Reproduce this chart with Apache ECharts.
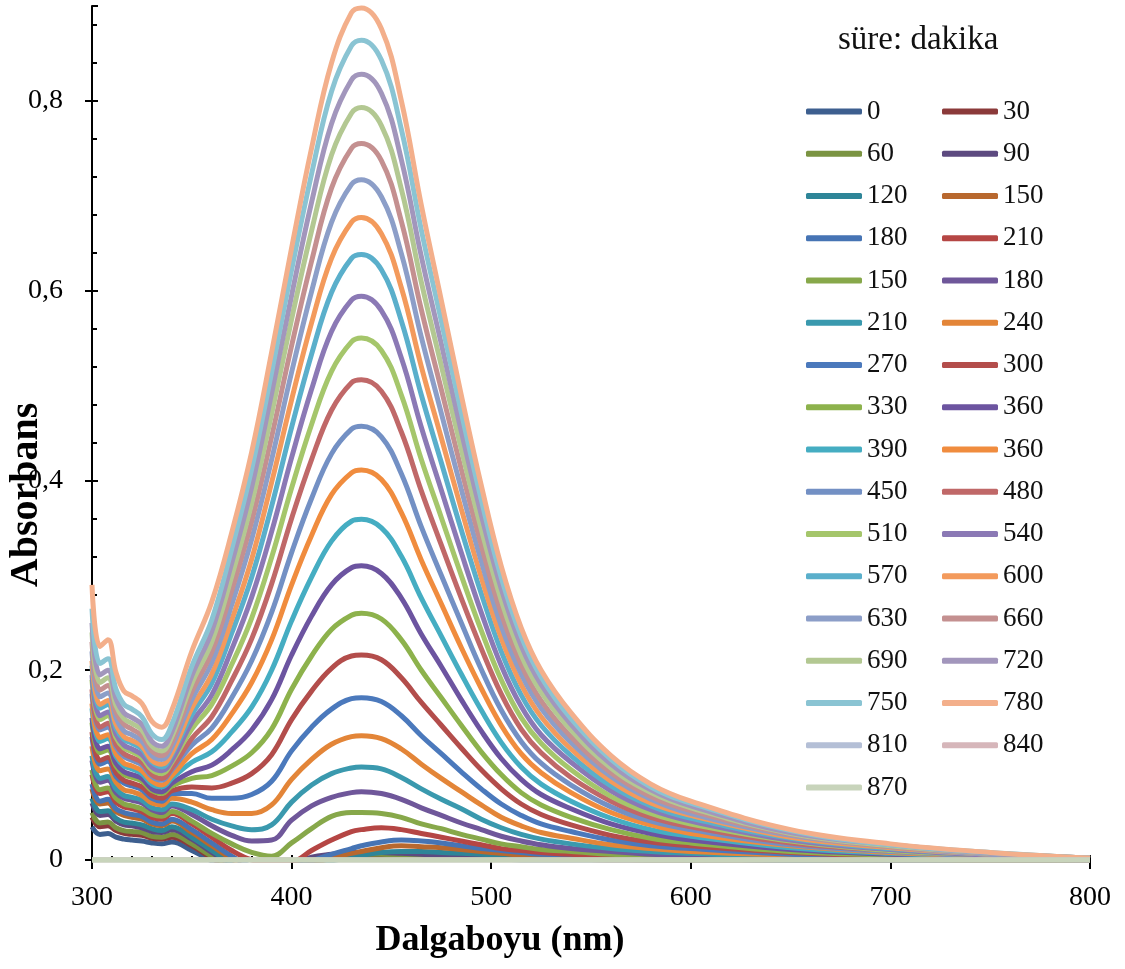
<!DOCTYPE html>
<html>
<head>
<meta charset="utf-8">
<script src="https://cdn.jsdelivr.net/npm/echarts/dist/echarts.min.js"></script>
<style>
  html, body { margin: 0; padding: 0; background: #fff; }
  #main { width: 1125px; height: 969px; }
</style>
</head>
<body>
<div id="main"></div>
<script>
// wavelength grid (nm) the absorbance values were read at
const wavelengths = [300, 304, 308, 312, 316, 320, 325, 330, 335, 340, 350, 360, 370, 380, 390, 400,
  410, 420, 430, 435, 445, 455, 465, 475, 485, 495, 505, 515, 525, 540, 560, 580, 600, 650, 700, 750, 800]

// legend labels, in the order they appear (süre: dakika)
const timeLabels = ['0', '30', '60', '90', '120', '150', '180', '210', '150', '180', '210', '240',
  '270', '300', '330', '360', '390', '360', '450', '480', '510', '540', '570', '600', '630', '660',
  '690', '720', '750', '780', '810', '840', '870']

const curve00 = [0.035, 0.027, 0.028, 0.024, 0.022, 0.021, 0.020, 0.018, 0.017, 0.019, 0.010, -0.001, -0.013, -0.021, -0.024, -0.009, -0.002, 0.001, 0.002, 0.002, 0.002, 0.002, 0.002, 0.001, 0.001, 0.001, 0.001, 0, 0, 0, 0, 0, 0, 0, 0, 0, 0]
const curve01 = [0.045, 0.035, 0.036, 0.031, 0.028, 0.027, 0.026, 0.023, 0.022, 0.024, 0.015, 0.002, -0.010, -0.019, -0.022, -0.008, -0.001, 0.002, 0.004, 0.004, 0.004, 0.004, 0.003, 0.003, 0.002, 0.002, 0.002, 0.001, 0.001, 0.001, 0, 0, 0, 0, 0, 0, 0]
const curve02 = [0.050, 0.039, 0.040, 0.034, 0.031, 0.030, 0.029, 0.025, 0.024, 0.027, 0.017, 0.004, -0.008, -0.018, -0.021, -0.006, 0.001, 0.004, 0.006, 0.006, 0.006, 0.005, 0.005, 0.004, 0.003, 0.003, 0.002, 0.002, 0.001, 0.001, 0.001, 0, 0, 0, 0, 0, 0]
const curve03 = [0.060, 0.047, 0.048, 0.041, 0.037, 0.036, 0.034, 0.030, 0.029, 0.032, 0.022, 0.008, -0.005, -0.016, -0.020, -0.005, 0.003, 0.006, 0.008, 0.008, 0.008, 0.007, 0.006, 0.005, 0.005, 0.004, 0.003, 0.002, 0.002, 0.001, 0.001, 0.001, 0.001, 0, 0, 0, 0]
const curve04 = [0.065, 0.051, 0.052, 0.044, 0.040, 0.039, 0.037, 0.033, 0.031, 0.035, 0.024, 0.010, -0.004, -0.015, -0.018, -0.012, -0.006, -0.001, 0.003, 0.005, 0.008, 0.009, 0.009, 0.008, 0.007, 0.006, 0.005, 0.004, 0.003, 0.002, 0.002, 0.001, 0.001, 0, 0, 0, 0]
const curve05 = [0.075, 0.059, 0.060, 0.051, 0.047, 0.045, 0.043, 0.038, 0.036, 0.041, 0.029, 0.015, 0.001, -0.011, -0.015, -0.011, -0.004, 0.002, 0.007, 0.009, 0.013, 0.015, 0.014, 0.013, 0.011, 0.009, 0.007, 0.005, 0.004, 0.003, 0.002, 0.002, 0.001, 0.001, 0, 0, 0]
const curve06 = [0.080, 0.062, 0.064, 0.054, 0.050, 0.048, 0.046, 0.040, 0.038, 0.043, 0.032, 0.018, 0.004, -0.007, -0.011, -0.008, -0.001, 0.006, 0.012, 0.015, 0.019, 0.021, 0.020, 0.018, 0.015, 0.012, 0.010, 0.008, 0.006, 0.005, 0.003, 0.002, 0.002, 0.001, 0, 0, 0]
const curve07 = [0.090, 0.070, 0.072, 0.061, 0.056, 0.054, 0.051, 0.045, 0.043, 0.049, 0.038, 0.024, 0.010, 0.000, -0.003, -0.002, 0.010, 0.021, 0.030, 0.032, 0.034, 0.032, 0.028, 0.024, 0.020, 0.016, 0.012, 0.010, 0.008, 0.006, 0.004, 0.003, 0.002, 0.001, 0.001, 0, 0]
const curve08 = [0.095, 0.074, 0.076, 0.065, 0.059, 0.057, 0.054, 0.048, 0.046, 0.051, 0.041, 0.028, 0.017, 0.008, 0.004, 0.018, 0.033, 0.046, 0.050, 0.050, 0.049, 0.045, 0.038, 0.033, 0.027, 0.022, 0.017, 0.014, 0.011, 0.009, 0.006, 0.004, 0.003, 0.002, 0.001, 0, 0]
const curve09 = [0.105, 0.082, 0.084, 0.071, 0.065, 0.063, 0.060, 0.053, 0.050, 0.057, 0.048, 0.036, 0.026, 0.020, 0.021, 0.042, 0.057, 0.066, 0.071, 0.072, 0.070, 0.064, 0.055, 0.047, 0.039, 0.032, 0.025, 0.020, 0.016, 0.012, 0.009, 0.006, 0.005, 0.003, 0.001, 0.001, 0]
const curve10 = [0.110, 0.086, 0.088, 0.075, 0.068, 0.066, 0.063, 0.055, 0.053, 0.059, 0.053, 0.043, 0.036, 0.032, 0.037, 0.061, 0.079, 0.091, 0.097, 0.098, 0.096, 0.087, 0.075, 0.064, 0.054, 0.043, 0.034, 0.027, 0.022, 0.017, 0.012, 0.009, 0.007, 0.003, 0.002, 0.001, 0]
const curve11 = [0.120, 0.094, 0.096, 0.082, 0.074, 0.072, 0.068, 0.060, 0.058, 0.065, 0.061, 0.053, 0.049, 0.049, 0.058, 0.085, 0.106, 0.122, 0.130, 0.131, 0.128, 0.117, 0.101, 0.086, 0.072, 0.058, 0.045, 0.036, 0.029, 0.023, 0.016, 0.012, 0.009, 0.005, 0.002, 0.001, 0]
const curve12 = [0.130, 0.101, 0.104, 0.088, 0.081, 0.078, 0.074, 0.065, 0.062, 0.070, 0.070, 0.065, 0.065, 0.069, 0.083, 0.115, 0.140, 0.159, 0.170, 0.171, 0.167, 0.152, 0.131, 0.112, 0.093, 0.075, 0.059, 0.047, 0.038, 0.030, 0.021, 0.015, 0.012, 0.006, 0.003, 0.002, 0]
const curve13 = [0.135, 0.105, 0.108, 0.092, 0.084, 0.081, 0.077, 0.068, 0.065, 0.073, 0.077, 0.076, 0.081, 0.091, 0.111, 0.148, 0.178, 0.202, 0.215, 0.216, 0.211, 0.192, 0.166, 0.142, 0.118, 0.095, 0.075, 0.059, 0.048, 0.037, 0.026, 0.019, 0.015, 0.008, 0.004, 0.002, 0]
const curve14 = [0.145, 0.113, 0.116, 0.099, 0.090, 0.087, 0.083, 0.073, 0.070, 0.078, 0.086, 0.089, 0.099, 0.113, 0.138, 0.180, 0.215, 0.243, 0.258, 0.260, 0.254, 0.232, 0.200, 0.171, 0.142, 0.114, 0.090, 0.071, 0.058, 0.045, 0.032, 0.023, 0.018, 0.009, 0.005, 0.002, 0.001]
const curve15 = [0.150, 0.117, 0.120, 0.102, 0.093, 0.090, 0.086, 0.075, 0.072, 0.081, 0.093, 0.100, 0.116, 0.137, 0.169, 0.216, 0.257, 0.290, 0.308, 0.310, 0.302, 0.276, 0.238, 0.204, 0.169, 0.136, 0.107, 0.085, 0.069, 0.054, 0.038, 0.028, 0.021, 0.011, 0.006, 0.003, 0.001]
const curve16 = [0.160, 0.125, 0.128, 0.109, 0.099, 0.096, 0.091, 0.080, 0.077, 0.086, 0.103, 0.114, 0.135, 0.161, 0.200, 0.252, 0.298, 0.336, 0.357, 0.359, 0.350, 0.320, 0.276, 0.236, 0.196, 0.158, 0.124, 0.098, 0.080, 0.062, 0.044, 0.032, 0.025, 0.013, 0.007, 0.003, 0.001]
const curve17 = [0.165, 0.129, 0.132, 0.112, 0.102, 0.099, 0.094, 0.083, 0.079, 0.089, 0.112, 0.127, 0.154, 0.187, 0.232, 0.290, 0.342, 0.385, 0.408, 0.411, 0.401, 0.366, 0.316, 0.270, 0.224, 0.181, 0.142, 0.112, 0.092, 0.071, 0.050, 0.037, 0.028, 0.015, 0.008, 0.004, 0.001]
const curve18 = [0.175, 0.137, 0.140, 0.119, 0.109, 0.105, 0.100, 0.088, 0.084, 0.095, 0.121, 0.139, 0.171, 0.210, 0.261, 0.324, 0.381, 0.428, 0.454, 0.457, 0.446, 0.407, 0.351, 0.300, 0.250, 0.201, 0.158, 0.125, 0.102, 0.079, 0.056, 0.041, 0.032, 0.016, 0.009, 0.004, 0.001]
const curve19 = [0.180, 0.140, 0.144, 0.122, 0.112, 0.108, 0.103, 0.090, 0.086, 0.097, 0.128, 0.151, 0.189, 0.233, 0.291, 0.360, 0.422, 0.474, 0.503, 0.506, 0.494, 0.451, 0.389, 0.332, 0.276, 0.223, 0.175, 0.138, 0.113, 0.087, 0.062, 0.045, 0.035, 0.018, 0.010, 0.005, 0.001]
const curve20 = [0.190, 0.148, 0.152, 0.129, 0.118, 0.114, 0.108, 0.095, 0.091, 0.103, 0.138, 0.164, 0.206, 0.255, 0.319, 0.392, 0.459, 0.515, 0.546, 0.550, 0.537, 0.490, 0.422, 0.361, 0.300, 0.242, 0.190, 0.150, 0.123, 0.095, 0.067, 0.049, 0.038, 0.020, 0.010, 0.005, 0.001]
const curve21 = [0.195, 0.152, 0.156, 0.133, 0.121, 0.117, 0.111, 0.098, 0.094, 0.105, 0.145, 0.174, 0.222, 0.277, 0.346, 0.424, 0.496, 0.557, 0.590, 0.594, 0.579, 0.529, 0.456, 0.390, 0.324, 0.261, 0.205, 0.162, 0.132, 0.103, 0.073, 0.053, 0.041, 0.021, 0.011, 0.005, 0.001]
const curve22 = [0.205, 0.160, 0.164, 0.139, 0.127, 0.123, 0.117, 0.103, 0.098, 0.111, 0.153, 0.186, 0.239, 0.298, 0.373, 0.456, 0.533, 0.598, 0.634, 0.638, 0.622, 0.568, 0.490, 0.419, 0.348, 0.281, 0.220, 0.174, 0.142, 0.110, 0.078, 0.057, 0.044, 0.023, 0.012, 0.006, 0.001]
const curve23 = [0.210, 0.164, 0.168, 0.143, 0.130, 0.126, 0.120, 0.105, 0.101, 0.113, 0.160, 0.196, 0.253, 0.317, 0.398, 0.485, 0.566, 0.634, 0.672, 0.677, 0.660, 0.603, 0.520, 0.445, 0.370, 0.298, 0.234, 0.185, 0.151, 0.117, 0.083, 0.060, 0.047, 0.024, 0.013, 0.006, 0.001]
const curve24 = [0.220, 0.172, 0.176, 0.150, 0.136, 0.132, 0.125, 0.110, 0.106, 0.119, 0.169, 0.208, 0.269, 0.338, 0.422, 0.514, 0.599, 0.672, 0.712, 0.717, 0.699, 0.639, 0.551, 0.471, 0.391, 0.315, 0.247, 0.196, 0.160, 0.124, 0.088, 0.064, 0.049, 0.026, 0.014, 0.006, 0.002]
const curve25 = [0.230, 0.179, 0.184, 0.156, 0.143, 0.138, 0.131, 0.115, 0.110, 0.124, 0.177, 0.219, 0.284, 0.357, 0.446, 0.542, 0.631, 0.708, 0.750, 0.755, 0.737, 0.673, 0.580, 0.496, 0.412, 0.332, 0.260, 0.206, 0.168, 0.130, 0.092, 0.067, 0.052, 0.027, 0.014, 0.007, 0.002]
const curve26 = [0.240, 0.187, 0.192, 0.163, 0.149, 0.144, 0.137, 0.120, 0.115, 0.130, 0.186, 0.230, 0.299, 0.376, 0.470, 0.570, 0.663, 0.743, 0.787, 0.793, 0.774, 0.707, 0.609, 0.521, 0.433, 0.349, 0.274, 0.216, 0.177, 0.137, 0.097, 0.071, 0.055, 0.028, 0.015, 0.007, 0.002]
const curve27 = [0.250, 0.195, 0.200, 0.170, 0.155, 0.150, 0.143, 0.125, 0.120, 0.135, 0.194, 0.241, 0.313, 0.393, 0.492, 0.595, 0.693, 0.776, 0.822, 0.828, 0.808, 0.738, 0.636, 0.544, 0.452, 0.364, 0.286, 0.226, 0.185, 0.143, 0.101, 0.074, 0.057, 0.029, 0.016, 0.007, 0.002]
const curve28 = [0.265, 0.207, 0.212, 0.180, 0.164, 0.159, 0.151, 0.133, 0.127, 0.143, 0.204, 0.253, 0.328, 0.412, 0.514, 0.622, 0.723, 0.810, 0.858, 0.864, 0.843, 0.770, 0.664, 0.568, 0.472, 0.380, 0.298, 0.236, 0.193, 0.149, 0.106, 0.077, 0.060, 0.031, 0.016, 0.008, 0.002]
const curve29 = [0.290, 0.225, 0.232, 0.198, 0.178, 0.173, 0.165, 0.146, 0.140, 0.158, 0.220, 0.272, 0.345, 0.430, 0.535, 0.645, 0.750, 0.840, 0.893, 0.898, 0.876, 0.800, 0.690, 0.590, 0.490, 0.395, 0.310, 0.245, 0.200, 0.155, 0.110, 0.080, 0.062, 0.032, 0.017, 0.008, 0.002]
const curve30 = [0, 0, 0, 0, 0, 0, 0, 0, 0, 0, 0, 0, 0, 0, 0, 0, 0, 0, 0, 0, 0, 0, 0, 0, 0, 0, 0, 0, 0, 0, 0, 0, 0, 0, 0, 0, 0]
const curve31 = [0, 0, 0, 0, 0, 0, 0, 0, 0, 0, 0, 0, 0, 0, 0, 0, 0, 0, 0, 0, 0, 0, 0, 0, 0, 0, 0, 0, 0, 0, 0, 0, 0, 0, 0, 0, 0]
const curve32 = [0, 0, 0, 0, 0, 0, 0, 0, 0, 0, 0, 0, 0, 0, 0, 0, 0, 0, 0, 0, 0, 0, 0, 0, 0, 0, 0, 0, 0, 0, 0, 0, 0, 0, 0, 0, 0]

const curves = [curve00, curve01, curve02, curve03, curve04, curve05, curve06, curve07, curve08,
  curve09, curve10, curve11, curve12, curve13, curve14, curve15, curve16, curve17, curve18, curve19,
  curve20, curve21, curve22, curve23, curve24, curve25, curve26, curve27, curve28, curve29, curve30,
  curve31, curve32]

const colors = ['#3d5f8f', '#8b3a3a', '#7b9442', '#5d4a80', '#2e8598', '#b8682e', '#4674b4', '#b54644',
  '#87a84a', '#6f579a', '#3a99ae', '#e38538', '#4b79bc', '#b34d4b', '#8db24c', '#6c54a0', '#45adc2',
  '#f08c3e', '#7390c4', '#c06868', '#a5c66b', '#8b79b5', '#5aafcb', '#f39a5c', '#8c9ec8', '#c49090',
  '#b3c892', '#a296bc', '#8ac4d3', '#f3af8b', '#b4bfd6', '#d6b6ba', '#c8d4bb']

const font = "'Liberation Serif', 'Times New Roman', serif"

// names must be unique (labels repeat), the legend shows only the part before '#'
const seriesNames = timeLabels.map((t, i) => t + '#' + i)
const legendText = name => name.split('#')[0]

const chart = echarts.init(document.getElementById('main'))

const legendBase = {
  orient: 'vertical',
  top: 98,
  padding: 0,
  itemWidth: 56,
  itemHeight: 6,
  itemGap: 15.25,
  icon: 'roundRect',
  selectedMode: false,
  formatter: legendText,
  textStyle: { fontFamily: font, fontSize: 27, lineHeight: 27, color: '#111' }
}

chart.setOption({
  animation: false,
  backgroundColor: '#fff',
  title: {
    text: 'süre: dakika',
    left: 838,
    top: 24,
    padding: 0,
    textStyle: { fontFamily: font, fontSize: 33, fontWeight: 'normal', color: '#111' }
  },
  legend: [
    Object.assign({}, legendBase, { left: 806, data: seriesNames.filter((n, i) => i % 2 === 0) }),
    Object.assign({}, legendBase, { left: 942, data: seriesNames.filter((n, i) => i % 2 === 1) })
  ],
  grid: { left: 92, right: 35, top: 6, bottom: 109, outerBoundsMode: 'none', containLabel: false },
  xAxis: [
    {
      type: 'value', min: 300, max: 800, interval: 100,
      axisLine: { show: true, onZero: false, lineStyle: { color: '#000', width: 2 } },
      axisTick: { show: true, length: 9, lineStyle: { color: '#000', width: 2 } },
      axisLabel: { margin: 24, fontFamily: font, fontSize: 28, color: '#000' },
      splitLine: { show: false },
      name: 'Dalgaboyu (nm)',
      nameLocation: 'middle',
      nameGap: 63,
      nameMoveOverlap: false,
      nameTextStyle: { fontFamily: font, fontSize: 36, fontWeight: 'bold', color: '#000', padding: [0, 182, 0, 0] }
    },
    {
      type: 'value', min: 300, max: 800, interval: 100, position: 'bottom',
      axisLine: { show: false },
      axisTick: { show: true, inside: true, length: 5, lineStyle: { color: '#000', width: 2 } },
      minorTick: { show: true, splitNumber: 10, length: 4, lineStyle: { color: '#000', width: 2 } },
      axisLabel: { show: false },
      splitLine: { show: false }
    }
  ],
  yAxis: [
    {
      type: 'value', min: 0, max: 0.9, interval: 0.2,
      axisLine: { show: true, lineStyle: { color: '#000', width: 2 } },
      axisTick: { show: true, length: 7, lineStyle: { color: '#000', width: 2 } },
      axisLabel: {
        margin: 29, showMaxLabel: false, fontFamily: font, fontSize: 28, color: '#000',
        formatter: v => String(Number(v.toFixed(1))).replace('.', ',')
      },
      splitLine: { show: false },
      name: 'Absorbans',
      nameLocation: 'middle',
      nameRotate: 90,
      nameGap: 45,
      nameMoveOverlap: false,
      nameTextStyle: { fontFamily: font, fontSize: 40, fontWeight: 'bold', color: '#000', padding: [0, 124, 0, 0] }
    },
    {
      type: 'value', min: 0, max: 0.9, interval: 0.2, position: 'left',
      axisLine: { show: false },
      axisTick: { show: true, inside: true, length: 6, lineStyle: { color: '#000', width: 2 } },
      minorTick: { show: true, splitNumber: 5, length: 5, lineStyle: { color: '#000', width: 2 } },
      axisLabel: { show: false },
      splitLine: { show: false }
    }
  ],
  series: curves.map((c, i) => ({
    name: seriesNames[i],
    type: 'line',
    xAxisIndex: 0,
    yAxisIndex: 0,
    data: wavelengths.map((w, k) => [w, c[k]]),
    showSymbol: false,
    symbol: 'none',
    smooth: 0.4,
    clip: true,
    silent: true,
    lineStyle: { width: i === 32 ? 5.5 : 5, color: colors[i] },
    itemStyle: { color: colors[i] }
  }))
})
</script>
</body>
</html>
